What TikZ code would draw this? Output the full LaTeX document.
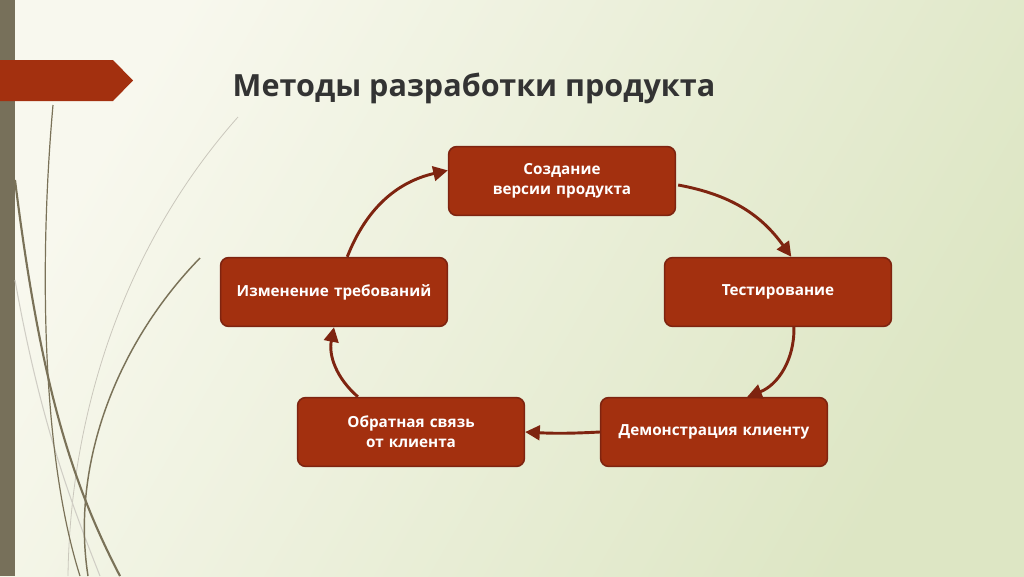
\documentclass[tikz,border=0pt]{standalone}
\usepackage{fontspec}
\setmainfont{Open Sans}
\usetikzlibrary{arrows.meta, positioning, shapes.geometric}
\definecolor{brick}{HTML}{A3300F}
\definecolor{brickdark}{HTML}{7E2410}
\definecolor{olivebar}{HTML}{77705A}
\definecolor{bgleft}{HTML}{F8F8EE}
\definecolor{bgright}{HTML}{DDE6C4}
\definecolor{reed}{HTML}{7A7258}
\tikzset{
  stepbox/.style={draw=brickdark, line width=1.2pt, fill=brick, rounded corners=6pt,
    minimum width=6.0cm, minimum height=1.82cm, text width=5.4cm, align=center,
    text=white, font=\bfseries\fontsize{11.5}{15}\selectfont},
  cyclearrow/.style={draw=brickdark, line width=2.2pt, -{Triangle[length=11pt, width=11pt]}}
}
\begin{document}
\begin{tikzpicture}[x=0.02646cm, y=-0.02646cm]
    % Background
    \shade[left color=bgleft, right color=bgright, shading angle=60] (0,0) rectangle (1024,576);
    \useasboundingbox (0,0) rectangle (1024,576);
    \fill[olivebar] (0,0) rectangle (15,576);

    % Reeds
    \draw[reed!40, line width=0.6pt] (238,117) .. controls (120,250) and (70,420) .. (68,576);
    \draw[reed!35, line width=0.8pt] (15,280) .. controls (40,420) and (70,500) .. (100,576);
    \draw[reed, line width=0.9pt] (53,105) .. controls (40,250) and (40,450) .. (80,576);
    \draw[reed, line width=1.6pt] (15,180) .. controls (40,380) and (70,480) .. (120,576);
    \draw[reed, line width=1.1pt] (200,258) .. controls (120,340) and (70,460) .. (88,576);

    % Banner and title
    \fill[brick] (0,60) -- (113,60) -- (133,80.5) -- (113,101) -- (0,101) -- cycle;
    \node[anchor=west, text=black!80, font=\bfseries\fontsize{23}{28}\selectfont] (title) at (228,88) {Методы разработки продукта};

    % Cycle steps
    \node[stepbox] (create) at (562,181) {Создание версии продукта};
    \node[stepbox] (test) at (778,292) {Тестирование};
    \node[stepbox] (demo) at (714,432) {Демонстрация клиенту};
    \node[stepbox] (feedback) at (411,432) {Обратная связь от клиента};
    \node[stepbox] (change) at (334,292) {Изменение требований};

    % Connectors
    \draw[cyclearrow] (create.east) ++(2,4) coordinate (c1) to[bend left=22] ([xshift=10pt]test.north);
    \draw[cyclearrow] ([xshift=12pt]test.south) to[bend left=35] ([xshift=25pt]demo.north);
    \draw[cyclearrow] (demo.west) to[bend left=3] (feedback.east);
    \draw[cyclearrow] ([xshift=-40pt]feedback.north) to[bend left=30] ([xshift=0pt]change.south);
    \draw[cyclearrow] ([xshift=10pt]change.north) to[bend left=28] ([yshift=8pt]create.west);
\end{tikzpicture}
\end{document}
